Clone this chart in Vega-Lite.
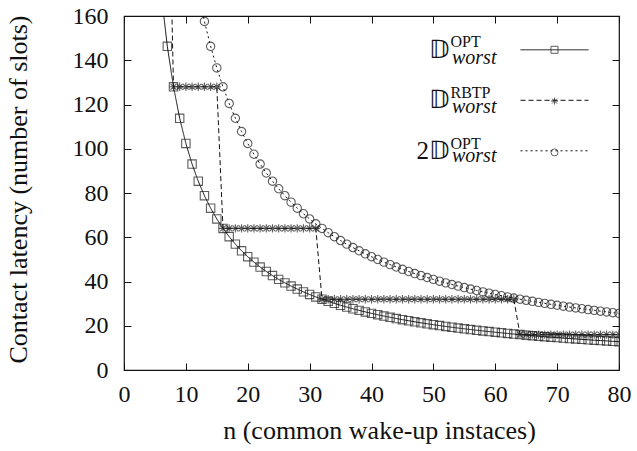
{
  "$schema": "https://vega.github.io/schema/vega-lite/v6.json",
  "width": 495,
  "height": 354,
  "autosize": {"type": "none"},
  "padding": {"left": 124, "top": 16, "right": 18, "bottom": 81},
  "background": "white",
  "config": {
    "view": {"stroke": "#111", "strokeWidth": 1.2},
    "font": "Liberation Serif",
    "axis": {
      "grid": false, "domain": false, "tickColor": "#111", "tickSize": -7, "tickWidth": 1,
      "labelFont": "Liberation Serif", "labelFontSize": 24, "labelColor": "#111",
      "labelFlush": false, "labelOverlap": false,
      "titleFont": "Liberation Serif", "titleFontSize": 26, "titleFontWeight": "normal", "titleColor": "#111"
    },
    "legend": {"padding": 0, "titlePadding": 0, "labelFont": "Liberation Serif", "labelColor": "#111", "labelLimit": 0}
  },
  "datasets": {
    "curves": [
      {"series": "OPT", "n": 6, "v": 170.67}, {"series": "OPT", "n": 7, "v": 146.29}, {"series": "OPT", "n": 8, "v": 128},
      {"series": "OPT", "n": 9, "v": 113.78}, {"series": "OPT", "n": 10, "v": 102.4}, {"series": "OPT", "n": 11, "v": 93.09},
      {"series": "OPT", "n": 12, "v": 85.33}, {"series": "OPT", "n": 13, "v": 78.77}, {"series": "OPT", "n": 14, "v": 73.14},
      {"series": "OPT", "n": 15, "v": 68.27}, {"series": "OPT", "n": 16, "v": 64}, {"series": "OPT", "n": 17, "v": 60.24},
      {"series": "OPT", "n": 18, "v": 56.89}, {"series": "OPT", "n": 19, "v": 53.89}, {"series": "OPT", "n": 20, "v": 51.2},
      {"series": "OPT", "n": 21, "v": 48.76}, {"series": "OPT", "n": 22, "v": 46.55}, {"series": "OPT", "n": 23, "v": 44.52},
      {"series": "OPT", "n": 24, "v": 42.67}, {"series": "OPT", "n": 25, "v": 40.96}, {"series": "OPT", "n": 26, "v": 39.38},
      {"series": "OPT", "n": 27, "v": 37.93}, {"series": "OPT", "n": 28, "v": 36.57}, {"series": "OPT", "n": 29, "v": 35.31},
      {"series": "OPT", "n": 30, "v": 34.13}, {"series": "OPT", "n": 31, "v": 33.03}, {"series": "OPT", "n": 32, "v": 32},
      {"series": "OPT", "n": 33, "v": 31.03}, {"series": "OPT", "n": 34, "v": 30.12}, {"series": "OPT", "n": 35, "v": 29.26},
      {"series": "OPT", "n": 36, "v": 28.44}, {"series": "OPT", "n": 37, "v": 27.68}, {"series": "OPT", "n": 38, "v": 26.95},
      {"series": "OPT", "n": 39, "v": 26.26}, {"series": "OPT", "n": 40, "v": 25.6}, {"series": "OPT", "n": 41, "v": 24.98},
      {"series": "OPT", "n": 42, "v": 24.38}, {"series": "OPT", "n": 43, "v": 23.81}, {"series": "OPT", "n": 44, "v": 23.27},
      {"series": "OPT", "n": 45, "v": 22.76}, {"series": "OPT", "n": 46, "v": 22.26}, {"series": "OPT", "n": 47, "v": 21.79},
      {"series": "OPT", "n": 48, "v": 21.33}, {"series": "OPT", "n": 49, "v": 20.9}, {"series": "OPT", "n": 50, "v": 20.48},
      {"series": "OPT", "n": 51, "v": 20.08}, {"series": "OPT", "n": 52, "v": 19.69}, {"series": "OPT", "n": 53, "v": 19.32},
      {"series": "OPT", "n": 54, "v": 18.96}, {"series": "OPT", "n": 55, "v": 18.62}, {"series": "OPT", "n": 56, "v": 18.29},
      {"series": "OPT", "n": 57, "v": 17.96}, {"series": "OPT", "n": 58, "v": 17.66}, {"series": "OPT", "n": 59, "v": 17.36},
      {"series": "OPT", "n": 60, "v": 17.07}, {"series": "OPT", "n": 61, "v": 16.79}, {"series": "OPT", "n": 62, "v": 16.52},
      {"series": "OPT", "n": 63, "v": 16.25}, {"series": "OPT", "n": 64, "v": 16}, {"series": "OPT", "n": 65, "v": 15.75},
      {"series": "OPT", "n": 66, "v": 15.52}, {"series": "OPT", "n": 67, "v": 15.28}, {"series": "OPT", "n": 68, "v": 15.06},
      {"series": "OPT", "n": 69, "v": 14.84}, {"series": "OPT", "n": 70, "v": 14.63}, {"series": "OPT", "n": 71, "v": 14.42},
      {"series": "OPT", "n": 72, "v": 14.22}, {"series": "OPT", "n": 73, "v": 14.03}, {"series": "OPT", "n": 74, "v": 13.84},
      {"series": "OPT", "n": 75, "v": 13.65}, {"series": "OPT", "n": 76, "v": 13.47}, {"series": "OPT", "n": 77, "v": 13.3},
      {"series": "OPT", "n": 78, "v": 13.13}, {"series": "OPT", "n": 79, "v": 12.96}, {"series": "OPT", "n": 80, "v": 12.8},

      {"series": "RBTP", "n": 7, "v": 256}, {"series": "RBTP", "n": 8, "v": 128}, {"series": "RBTP", "n": 9, "v": 128},
      {"series": "RBTP", "n": 10, "v": 128}, {"series": "RBTP", "n": 11, "v": 128}, {"series": "RBTP", "n": 12, "v": 128},
      {"series": "RBTP", "n": 13, "v": 128}, {"series": "RBTP", "n": 14, "v": 128}, {"series": "RBTP", "n": 15, "v": 128},
      {"series": "RBTP", "n": 16, "v": 64}, {"series": "RBTP", "n": 17, "v": 64}, {"series": "RBTP", "n": 18, "v": 64},
      {"series": "RBTP", "n": 19, "v": 64}, {"series": "RBTP", "n": 20, "v": 64}, {"series": "RBTP", "n": 21, "v": 64},
      {"series": "RBTP", "n": 22, "v": 64}, {"series": "RBTP", "n": 23, "v": 64}, {"series": "RBTP", "n": 24, "v": 64},
      {"series": "RBTP", "n": 25, "v": 64}, {"series": "RBTP", "n": 26, "v": 64}, {"series": "RBTP", "n": 27, "v": 64},
      {"series": "RBTP", "n": 28, "v": 64}, {"series": "RBTP", "n": 29, "v": 64}, {"series": "RBTP", "n": 30, "v": 64},
      {"series": "RBTP", "n": 31, "v": 64}, {"series": "RBTP", "n": 32, "v": 32}, {"series": "RBTP", "n": 33, "v": 32},
      {"series": "RBTP", "n": 34, "v": 32}, {"series": "RBTP", "n": 35, "v": 32}, {"series": "RBTP", "n": 36, "v": 32},
      {"series": "RBTP", "n": 37, "v": 32}, {"series": "RBTP", "n": 38, "v": 32}, {"series": "RBTP", "n": 39, "v": 32},
      {"series": "RBTP", "n": 40, "v": 32}, {"series": "RBTP", "n": 41, "v": 32}, {"series": "RBTP", "n": 42, "v": 32},
      {"series": "RBTP", "n": 43, "v": 32}, {"series": "RBTP", "n": 44, "v": 32}, {"series": "RBTP", "n": 45, "v": 32},
      {"series": "RBTP", "n": 46, "v": 32}, {"series": "RBTP", "n": 47, "v": 32}, {"series": "RBTP", "n": 48, "v": 32},
      {"series": "RBTP", "n": 49, "v": 32}, {"series": "RBTP", "n": 50, "v": 32}, {"series": "RBTP", "n": 51, "v": 32},
      {"series": "RBTP", "n": 52, "v": 32}, {"series": "RBTP", "n": 53, "v": 32}, {"series": "RBTP", "n": 54, "v": 32},
      {"series": "RBTP", "n": 55, "v": 32}, {"series": "RBTP", "n": 56, "v": 32}, {"series": "RBTP", "n": 57, "v": 32},
      {"series": "RBTP", "n": 58, "v": 32}, {"series": "RBTP", "n": 59, "v": 32}, {"series": "RBTP", "n": 60, "v": 32},
      {"series": "RBTP", "n": 61, "v": 32}, {"series": "RBTP", "n": 62, "v": 32}, {"series": "RBTP", "n": 63, "v": 32},
      {"series": "RBTP", "n": 64, "v": 16}, {"series": "RBTP", "n": 65, "v": 16}, {"series": "RBTP", "n": 66, "v": 16},
      {"series": "RBTP", "n": 67, "v": 16}, {"series": "RBTP", "n": 68, "v": 16}, {"series": "RBTP", "n": 69, "v": 16},
      {"series": "RBTP", "n": 70, "v": 16}, {"series": "RBTP", "n": 71, "v": 16}, {"series": "RBTP", "n": 72, "v": 16},
      {"series": "RBTP", "n": 73, "v": 16}, {"series": "RBTP", "n": 74, "v": 16}, {"series": "RBTP", "n": 75, "v": 16},
      {"series": "RBTP", "n": 76, "v": 16}, {"series": "RBTP", "n": 77, "v": 16}, {"series": "RBTP", "n": 78, "v": 16},
      {"series": "RBTP", "n": 79, "v": 16}, {"series": "RBTP", "n": 80, "v": 16},

      {"series": "TWICE_OPT", "n": 12, "v": 170.67}, {"series": "TWICE_OPT", "n": 13, "v": 157.54}, {"series": "TWICE_OPT", "n": 14, "v": 146.29},
      {"series": "TWICE_OPT", "n": 15, "v": 136.53}, {"series": "TWICE_OPT", "n": 16, "v": 128}, {"series": "TWICE_OPT", "n": 17, "v": 120.47},
      {"series": "TWICE_OPT", "n": 18, "v": 113.78}, {"series": "TWICE_OPT", "n": 19, "v": 107.79}, {"series": "TWICE_OPT", "n": 20, "v": 102.4},
      {"series": "TWICE_OPT", "n": 21, "v": 97.52}, {"series": "TWICE_OPT", "n": 22, "v": 93.09}, {"series": "TWICE_OPT", "n": 23, "v": 89.04},
      {"series": "TWICE_OPT", "n": 24, "v": 85.33}, {"series": "TWICE_OPT", "n": 25, "v": 81.92}, {"series": "TWICE_OPT", "n": 26, "v": 78.77},
      {"series": "TWICE_OPT", "n": 27, "v": 75.85}, {"series": "TWICE_OPT", "n": 28, "v": 73.14}, {"series": "TWICE_OPT", "n": 29, "v": 70.62},
      {"series": "TWICE_OPT", "n": 30, "v": 68.27}, {"series": "TWICE_OPT", "n": 31, "v": 66.06}, {"series": "TWICE_OPT", "n": 32, "v": 64},
      {"series": "TWICE_OPT", "n": 33, "v": 62.06}, {"series": "TWICE_OPT", "n": 34, "v": 60.24}, {"series": "TWICE_OPT", "n": 35, "v": 58.51},
      {"series": "TWICE_OPT", "n": 36, "v": 56.89}, {"series": "TWICE_OPT", "n": 37, "v": 55.35}, {"series": "TWICE_OPT", "n": 38, "v": 53.89},
      {"series": "TWICE_OPT", "n": 39, "v": 52.51}, {"series": "TWICE_OPT", "n": 40, "v": 51.2}, {"series": "TWICE_OPT", "n": 41, "v": 49.95},
      {"series": "TWICE_OPT", "n": 42, "v": 48.76}, {"series": "TWICE_OPT", "n": 43, "v": 47.63}, {"series": "TWICE_OPT", "n": 44, "v": 46.55},
      {"series": "TWICE_OPT", "n": 45, "v": 45.51}, {"series": "TWICE_OPT", "n": 46, "v": 44.52}, {"series": "TWICE_OPT", "n": 47, "v": 43.57},
      {"series": "TWICE_OPT", "n": 48, "v": 42.67}, {"series": "TWICE_OPT", "n": 49, "v": 41.8}, {"series": "TWICE_OPT", "n": 50, "v": 40.96},
      {"series": "TWICE_OPT", "n": 51, "v": 40.16}, {"series": "TWICE_OPT", "n": 52, "v": 39.38}, {"series": "TWICE_OPT", "n": 53, "v": 38.64},
      {"series": "TWICE_OPT", "n": 54, "v": 37.93}, {"series": "TWICE_OPT", "n": 55, "v": 37.24}, {"series": "TWICE_OPT", "n": 56, "v": 36.57},
      {"series": "TWICE_OPT", "n": 57, "v": 35.93}, {"series": "TWICE_OPT", "n": 58, "v": 35.31}, {"series": "TWICE_OPT", "n": 59, "v": 34.71},
      {"series": "TWICE_OPT", "n": 60, "v": 34.13}, {"series": "TWICE_OPT", "n": 61, "v": 33.57}, {"series": "TWICE_OPT", "n": 62, "v": 33.03},
      {"series": "TWICE_OPT", "n": 63, "v": 32.51}, {"series": "TWICE_OPT", "n": 64, "v": 32}, {"series": "TWICE_OPT", "n": 65, "v": 31.51},
      {"series": "TWICE_OPT", "n": 66, "v": 31.03}, {"series": "TWICE_OPT", "n": 67, "v": 30.57}, {"series": "TWICE_OPT", "n": 68, "v": 30.12},
      {"series": "TWICE_OPT", "n": 69, "v": 29.68}, {"series": "TWICE_OPT", "n": 70, "v": 29.26}, {"series": "TWICE_OPT", "n": 71, "v": 28.85},
      {"series": "TWICE_OPT", "n": 72, "v": 28.44}, {"series": "TWICE_OPT", "n": 73, "v": 28.05}, {"series": "TWICE_OPT", "n": 74, "v": 27.68},
      {"series": "TWICE_OPT", "n": 75, "v": 27.31}, {"series": "TWICE_OPT", "n": 76, "v": 26.95}, {"series": "TWICE_OPT", "n": 77, "v": 26.6},
      {"series": "TWICE_OPT", "n": 78, "v": 26.26}, {"series": "TWICE_OPT", "n": 79, "v": 25.92}, {"series": "TWICE_OPT", "n": 80, "v": 25.6}
    ]
  },
  "data": {"name": "curves"},
  "resolve": {"axis": {"x": "independent", "y": "independent"}},
  "layer": [
    {
      "mark": {"type": "line", "clip": true, "strokeWidth": 1},
      "encoding": {
        "x": {
          "field": "n", "type": "quantitative",
          "scale": {"domain": [0, 80], "nice": false, "zero": false},
          "axis": {
            "values": [0, 10, 20, 30, 40, 50, 60, 70, 80],
            "labelPadding": 19,
            "title": "n (common wake-up instaces)",
            "titleX": 255, "titleY": 68, "titleBaseline": "alphabetic", "titleAlign": "center"
          }
        },
        "y": {
          "field": "v", "type": "quantitative",
          "scale": {"domain": [0, 160], "nice": false, "zero": false},
          "axis": {
            "values": [0, 20, 40, 60, 80, 100, 120, 140, 160],
            "labelPadding": 23,
            "title": "Contact latency (number of slots)",
            "titleX": -98, "titleY": 173, "titleAngle": -90, "titleBaseline": "alphabetic", "titleAlign": "center"
          }
        },
        "strokeDash": {
          "field": "series", "type": "nominal",
          "scale": {"domain": ["OPT", "RBTP", "TWICE_OPT"], "range": [[1, 0], [5, 3], [2, 3]]},
          "legend": {
            "orient": "none", "legendX": 396, "legendY": -0.7, "title": null,
            "symbolType": "stroke", "symbolSize": 4624, "symbolStrokeWidth": 1, "symbolStrokeColor": "#111",
            "labelExpr": "datum.value == 'TWICE_OPT' ? '2𝔻' : '𝔻'",
            "labelFont": "Liberation Serif", "labelFontWeight": "normal",
            "labelFontSize": 25, "labelAlign": "right", "labelOffset": -140, "rowPadding": 2.5
          }
        },
        "color": {
          "field": "series", "type": "nominal",
          "scale": {"range": ["#111", "#111", "#111"]},
          "legend": {
            "orient": "none", "legendX": 308, "legendY": 31.5, "title": null,
            "symbolOpacity": 0, "symbolSize": 1,
            "labelExpr": "'worst'", "labelFont": "Liberation Serif", "labelFontWeight": "normal",
            "labelFontSize": 20, "labelFontStyle": "italic",
            "labelAlign": "left", "labelOffset": 0, "rowPadding": 29.3
          }
        }
      }
    },
    {
      "mark": {"type": "point", "clip": true, "filled": false, "size": 70, "strokeWidth": 1.1, "color": "#1a1a1a"},
      "encoding": {
        "x": {
          "field": "n", "type": "quantitative",
          "axis": {"orient": "top", "labels": false, "title": null, "values": [0, 10, 20, 30, 40, 50, 60, 70, 80]}
        },
        "y": {
          "field": "v", "type": "quantitative",
          "axis": {"orient": "right", "labels": false, "title": null, "values": [0, 20, 40, 60, 80, 100, 120, 140, 160]}
        },
        "shape": {
          "field": "series", "type": "nominal",
          "sort": ["OPT", "RBTP", "TWICE_OPT"],
          "scale": {"range": ["square", "M-1,0H1M0,-1V1M-0.7,-0.7L0.7,0.7M-0.7,0.7L0.7,-0.7", "circle"]},
          "legend": {
            "orient": "none", "legendX": 422.5, "legendY": 25.8, "title": null,
            "symbolSize": 49, "symbolStrokeColor": "#1a1a1a", "symbolFillColor": "transparent", "symbolStrokeWidth": 1,
            "labelExpr": "datum.value == 'RBTP' ? 'RBTP' : 'OPT'",
            "labelFont": "Liberation Serif", "labelFontWeight": "normal",
            "labelFontSize": 16, "labelBaseline": "bottom", "labelAlign": "left", "labelOffset": -112, "rowPadding": 29.3
          }
        }
      }
    }
  ]
}
